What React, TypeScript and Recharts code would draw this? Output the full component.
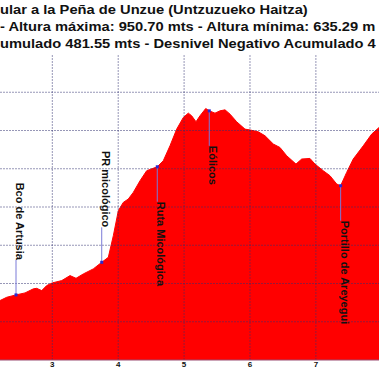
import React from 'react';
import { ComposedChart, Area, Scatter, XAxis, YAxis, ReferenceLine } from 'recharts';

// profile: distance (km) and altitude (m)
const distanceKm = [
  2.206, 2.308, 2.449, 2.586, 2.712, 2.763, 2.839, 2.915, 3.0, 3.143, 3.269, 3.36, 3.47, 3.622,
  3.75, 3.85, 3.926, 4.002, 4.077, 4.153, 4.229, 4.331, 4.432, 4.593, 4.684, 4.786, 4.888, 4.988,
  5.064, 5.115, 5.181, 5.241, 5.328, 5.382, 5.469, 5.545, 5.621, 5.697, 5.798, 5.924, 6.011,
  6.126, 6.228, 6.354, 6.455, 6.557, 6.698, 6.785, 6.91, 6.986, 7.112, 7.214, 7.316, 7.376,
  7.467, 7.567, 7.719, 7.847, 7.958,
];
const altitudeM = [
  677.7, 682.0, 685.1, 687.7, 693.0, 693.7, 690.7, 697.3, 700.8, 703.8, 710.3, 706.8, 712.5, 719.1,
  727.7, 734.2, 762.5, 795.2, 806.0, 810.4, 819.1, 834.3, 847.4, 852.6, 860.4, 880.0, 901.8, 917.0,
  922.7, 919.2, 911.4, 919.2, 928.7, 925.7, 922.7, 925.7, 927.0, 921.4, 911.4, 901.8, 900.5,
  898.3, 893.1, 882.3, 877.8, 867.0, 856.1, 862.7, 863.5, 856.1, 847.4, 840.9, 830.0, 827.8,
  845.2, 862.7, 880.0, 895.3, 903.9,
];

const waypointNames = ['Bco de Artusia', 'PR micológico', 'Ruta Micológica', 'Eólicos', 'Portillo de Areyegui'];
const waypointKm = [2.449, 3.75, 4.593, 5.382, 7.376];
const waypointAlt = [685.1, 727.7, 852.6, 925.7, 827.8];

const kmTicks = [3, 4, 5, 6, 7];
const altGrid = [650, 700, 750, 800, 850, 900, 950];

const titleLines = [
  'ular a la Peña de Unzue (Untzuzueko Haitza)',
  '- Altura máxima: 950.70 mts - Altura mínima: 635.29 m',
  'umulado 481.55 mts - Desnivel Negativo Acumulado 4',
];

const profile = distanceKm.map((km, i) => ({ km, elev: altitudeM[i] }));
const waypoints = waypointNames.map((name, i) => ({ name, km: waypointKm[i], elev: waypointAlt[i] }));

// labels hanging under the point instead of above it
const labelBelow = ['Ruta Micológica', 'Eólicos', 'Portillo de Areyegui'];

// semi transparent so the grid shows grey on white and dark on the red fill
const gridProps = { stroke: '#303070', strokeOpacity: 0.5, strokeDasharray: '2 1' };

const WaypointMark = (props: any) => {
  const { cx, cy, payload } = props;
  const below = labelBelow.includes(payload.name);
  const gap = 35;
  const y2 = below ? cy + gap : cy - gap;
  return (
    <g>
      <line x1={cx} y1={cy} x2={cx} y2={y2} stroke="#7a7ad8" strokeWidth={1} />
      <rect x={cx - 1.5} y={cy - 1.5} width={3} height={3} fill="#2a2ad0" />
      <text
        x={cx}
        y={y2}
        transform={`rotate(90 ${cx} ${y2})`}
        textAnchor={below ? 'start' : 'end'}
        fontFamily="Arial, 'Liberation Sans', sans-serif"
        fontWeight="bold"
        fontSize={11}
        fill="#111"
      >
        {payload.name}
      </text>
    </g>
  );
};

export default function App() {
  return (
    <div style={{ position: 'relative', width: 379, height: 379, background: '#fff', overflow: 'hidden' }}>
      <style>{'body{margin:0}'}</style>
      <ComposedChart width={379} height={379} data={profile} margin={{ top: 54, right: 0, bottom: 0, left: 0 }}>
        <XAxis
          dataKey="km"
          type="number"
          domain={[2.206, 7.958]}
          ticks={kmTicks}
          allowDataOverflow
          height={19}
          tickLine={false}
          tickSize={0}
          tickMargin={1}
          axisLine={{ stroke: '#9a4a70' }}
          tick={{ fontSize: 8, fontWeight: 'bold', fill: '#111', fontFamily: "Arial, 'Liberation Sans', sans-serif" }}
        />
        <YAxis dataKey="elev" type="number" domain={[600, 1000]} hide allowDataOverflow />
        <Area
          type="linear"
          dataKey="elev"
          stroke="#ff0000"
          strokeWidth={1}
          fill="#ff0000"
          fillOpacity={1}
          isAnimationActive={false}
        />
        {altGrid.map((v) => (
          <ReferenceLine key={`h${v}`} y={v} {...gridProps} />
        ))}
        {kmTicks.map((v) => (
          <ReferenceLine key={`v${v}`} x={v} {...gridProps} />
        ))}
        <Scatter data={waypoints} dataKey="elev" shape={WaypointMark} isAnimationActive={false} />
      </ComposedChart>
      <div
        style={{
          position: 'absolute',
          left: 0,
          top: 2,
          fontFamily: "Arial, 'Liberation Sans', sans-serif",
          fontWeight: 'bold',
          fontSize: 13,
          lineHeight: '16.8px',
          color: '#111',
        }}
      >
        {titleLines.map((t, i) => (
          <div key={i} style={{ whiteSpace: 'nowrap', transform: 'scaleX(1.13)', transformOrigin: 'left', marginLeft: i === 1 ? -0.5 : 0 }}>
            {t}
          </div>
        ))}
      </div>
    </div>
  );
}
